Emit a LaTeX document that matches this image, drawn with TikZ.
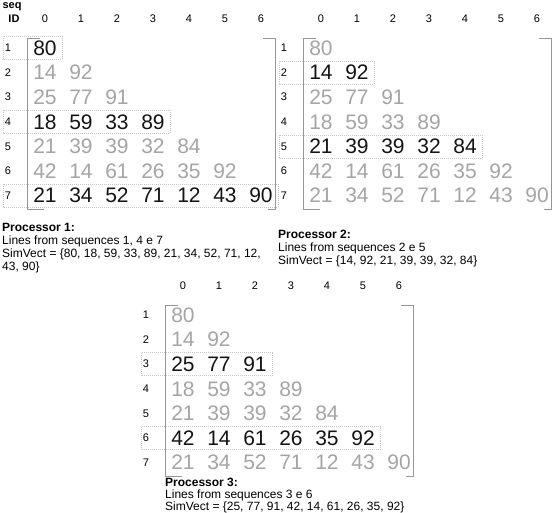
\documentclass[tikz,border=0pt]{standalone}
\usepackage{fontspec}
\setmainfont{Liberation Sans}
\definecolor{numgray}{RGB}{165,165,165}
\definecolor{brgray}{RGB}{150,150,150}
\definecolor{boxgray}{RGB}{200,200,200}
\tikzset{
  big/.style={font=\fontsize{21}{21}\selectfont, inner sep=0pt, anchor=center},
  hinum/.style={big, text=black!92},
  lonum/.style={big, text=numgray},
  small/.style={font=\fontsize{11}{11}\selectfont, inner sep=0pt, anchor=center},
  bracket/.style={draw=brgray, line width=0.8pt},
  hlbox/.style={draw=boxgray, dash pattern=on 1pt off 1pt, line width=0.5pt},
  info/.style={font=\fontsize{12}{13}\selectfont, align=left, anchor=north west, inner sep=0pt},
}
\newcommand\drawpanel[4]{%
\begin{scope}[shift={(#1,#2)}]
  \foreach \c in {0,...,6} \node[small] (#3h\c) at (45+36*\c,19) {\c};
  \foreach \r/\vals in {1/{80},2/{14,92},3/{25,77,91},4/{18,59,33,89},5/{21,39,39,32,84},6/{42,14,61,26,35,92},7/{21,34,52,71,12,43,90}}{
    \pgfmathsetmacro\yy{48+24.6*(\r-1)}
    \gdef\hl{0}
    \foreach \h in {#4}{\ifnum\h=\r\gdef\hl{1}\fi}
    \ifnum\hl=1
      \pgfmathsetmacro\xr{45+36*(\r-1)+17}
      \draw[hlbox] (3,\yy-11.5) rectangle (\xr,\yy+11.5);
    \fi
    \node[small] (#3l\r) at (8,\yy) {\r};
    \foreach \v [count=\c from 0] in \vals {
      \ifnum\hl=1
        \node[hinum] (#3n\r-\c) at (45+36*\c,\yy) {\v};
      \else
        \node[lonum] (#3n\r-\c) at (45+36*\c,\yy) {\v};
      \fi
    }
  }
  \draw[bracket] (40,38) -- (27,38) -- (27,209) -- (44,209);
  \draw[bracket] (263,38) -- (275,38) -- (275,209) -- (268,209);
\end{scope}}
\begin{document}
\begin{tikzpicture}[x=1pt,y=-1pt]
\useasboundingbox (0,0) rectangle (552,513);
\fill[white] (0,0) rectangle (552,513);
\node[font=\bfseries\fontsize{11}{11}\selectfont, inner sep=0pt] (seq) at (12,7) {seq};
\node[font=\bfseries\fontsize{11}{11}\selectfont, inner sep=0pt] (id) at (14,19) {ID};
\drawpanel{0}{0}{a}{1,4,7}
\drawpanel{276}{0}{b}{2,5}
\drawpanel{138}{267}{c}{3,6}
\node[info] (p1) at (2,223) {\textbf{Processor 1:}\\Lines from sequences 1, 4 e 7\\SimVect = \{80, 18, 59, 33, 89, 21, 34, 52, 71, 12,\\43, 90\}};
\node[info] (p2) at (278,230) {\textbf{Processor 2:}\\Lines from sequences 2 e 5\\SimVect = \{14, 92, 21, 39, 39, 32, 84\}};
\node[info, font=\fontsize{12}{12}\selectfont] (p3) at (165,477.5) {\textbf{Processor 3:}\\Lines from sequences 3 e 6\\SimVect = \{25, 77, 91, 42, 14, 61, 26, 35, 92\}};
\end{tikzpicture}
\end{document}
